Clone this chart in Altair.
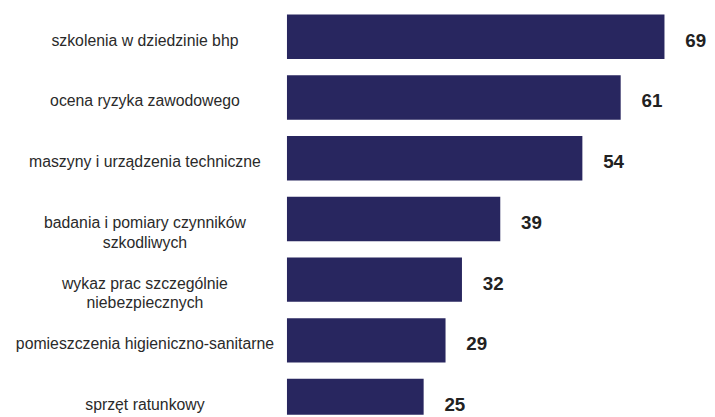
import altair as alt
import pandas as pd

categories = [
    "szkolenia w dziedzinie bhp",
    "ocena ryzyka zawodowego",
    "maszyny i urządzenia techniczne",
    "badania i pomiary czynników\nszkodliwych",
    "wykaz prac szczególnie\nniebezpiecznych",
    "pomieszczenia higieniczno-sanitarne",
    "sprzęt ratunkowy",
]
values = [69, 61, 54, 39, 32, 29, 25]

df = pd.DataFrame({"category": categories, "value": values})

BAR = "#28265f"

y_enc = alt.Y(
    "category:N",
    sort=categories,
    scale=alt.Scale(range=[0, 422], paddingInner=0.268, paddingOuter=0.07),
    axis=alt.Axis(
        title=None,
        domain=False,
        ticks=False,
        grid=False,
        labelAlign="center",
        labelBaseline="middle",
        labelPadding=144,
        labelFontSize=16,
        labelFont="Liberation Sans",
        labelColor="#2a2a2a",
        labelLineHeight=20,
        labelOffset=4,
        labelLimit=0,
        labelExpr="split(datum.label, '\\n')",
    ),
)
x_enc = alt.X(
    "value:Q",
    scale=alt.Scale(domain=[0, 76.77], zero=True, nice=False),
    axis=None,
)

base = alt.Chart(df)

bars = base.mark_bar(color=BAR, clip=True).encode(x=x_enc, y=y_enc)

labels = base.mark_text(
    align="left",
    baseline="middle",
    dx=21,
    dy=4,
    fontSize=19,
    fontWeight="bold",
    font="Liberation Sans",
    color="#222222",
).encode(x=x_enc, y=y_enc, text="value:Q")

chart = (
    alt.layer(bars, labels)
    .properties(
        width=425,
        height=409,
        autosize=alt.AutoSizeParams(type="none"),
        padding={"left": 282, "top": 0, "right": 0, "bottom": 0},
    )
    .configure_view(stroke=None)
)

chart.save("out.html", embed_options={"renderer": "svg", "actions": False})
